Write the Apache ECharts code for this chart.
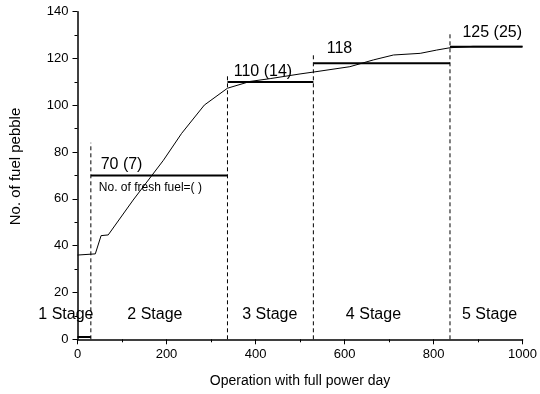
<!DOCTYPE html>
<html><head><meta charset="utf-8">
<script src="https://cdn.jsdelivr.net/npm/echarts@6/dist/echarts.min.js"></script>
<style>html,body{margin:0;padding:0;background:#fff}#c{width:540px;height:394px}</style>
</head><body><div id="c"></div>
<script>
// Curve: number of fuel pebbles vs operation day
const curveDays  = [0, 40, 53, 69, 125, 193, 234, 285, 337, 388, 433, 500, 530, 612, 665, 710, 770, 807, 837, 889, 1000];
const curveCount = [36, 36.5, 44.3, 44.6, 59.5, 76.5, 88, 100.1, 107.3, 110.2, 111.4, 113.4, 114.2, 116.5, 119.4, 121.5, 122.2, 123.6, 124.6, 125.2, 125.2];
// Stage boundaries and levels
const stageBounds = [0, 30, 337, 530, 837, 1000];
const stageLevels = [1, 70, 110, 118, 125];
const dashTops = [84, 113, 122, 131];
const stageNames = ["1 Stage", "2 Stage", "3 Stage", "4 Stage", "5 Stage"];
const stageLabelX = [-26, 174, 432, 665, 926];
const stageLabelY = 10.4;
// Level annotations
const levelTexts = ["70 (7)", "110 (14)", "118", "125 (25)"];
const levelTextX = [52, 351, 560, 865];
const levelTextY = [74.5, 114.6, 124.4, 131];
const noteText = "No. of fresh fuel=( )";
const noteX = 48, noteY = 64.6;

const FONT = 'Liberation Sans, Arial, sans-serif';
const series = [];
series.push({type:'line', data: curveDays.map((d,i)=>[d, curveCount[i]]), symbol:'none',
  lineStyle:{color:'#000', width:1}, z:3});
for (let i=0;i<stageLevels.length;i++){
  series.push({type:'line', data:[[stageBounds[i], stageLevels[i]],[stageBounds[i+1], stageLevels[i]]],
    symbol:'none', lineStyle:{color:'#000', width:2}, z:4});
}
for (let i=0;i<dashTops.length;i++){
  series.push({type:'line', data:[[stageBounds[i+1],0],[stageBounds[i+1],dashTops[i]]],
    symbol:'none', lineStyle:{color:'#000', width:1, type:[4,3]}, z:2});
}
const txt = [];
stageNames.forEach((s,i)=>txt.push({value:[stageLabelX[i], stageLabelY], label:{formatter:s, fontSize:16, align:'center', color:'#000'}}));
levelTexts.forEach((s,i)=>txt.push({value:[levelTextX[i], levelTextY[i]], label:{formatter:s, fontSize:16, align:'left', color:'#000'}}));
txt.push({value:[noteX, noteY], label:{formatter:noteText, fontSize:12, align:'left', color:'#000'}});
series.push({type:'scatter', data: txt, symbolSize:1, itemStyle:{color:'rgba(0,0,0,0)', opacity:1},
  label:{show:true, position:'inside', color:'#000', fontFamily:FONT, verticalAlign:'middle'},
  z:5, silent:true, clip:false});

const chart = echarts.init(document.getElementById('c'), null, {renderer:'canvas'});
const axisCommon = {
  axisLine:{show:true, onZero:false, lineStyle:{color:'#000', width:1.5}},
  axisTick:{show:true, length:5, lineStyle:{color:'#000', width:1}},
  minorTick:{show:true, splitNumber:2, length:3, lineStyle:{color:'#000', width:1}},
  splitLine:{show:false},
  nameLocation:'middle'
};
chart.setOption({
  animation:false,
  backgroundColor:'#fff',
  grid:{left:77.5, right:16, top:11.7, bottom:54.7, containLabel:false},
  xAxis:Object.assign({type:'value', min:0, max:1000, interval:200, name:'Operation with full power day', nameGap:35,
    nameTextStyle:{color:'#000', fontSize:14, fontFamily:FONT},
    axisLabel:{color:'#000', fontSize:13, fontFamily:FONT, margin:9, formatter:v=>String(v)}}, axisCommon),
  yAxis:Object.assign({type:'value', min:0, max:140, interval:20, name:'No. of fuel pebble', nameGap:54,
    nameTextStyle:{color:'#000', fontSize:15, fontFamily:FONT, padding:[0,0,0,18]},
    axisLabel:{color:'#000', fontSize:13, fontFamily:FONT, margin:9, formatter:v=>String(v)}}, axisCommon),
  series
});
</script></body></html>
